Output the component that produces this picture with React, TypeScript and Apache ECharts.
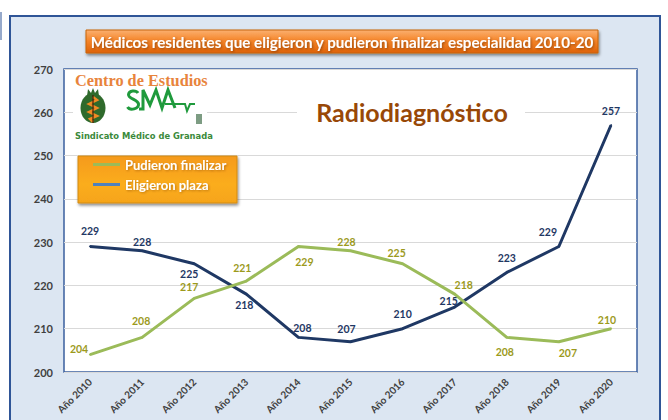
import React, { useEffect, useRef } from "react";
import * as echarts from "echarts";

const years = ["Año 2010", "Año 2011", "Año 2012", "Año 2013", "Año 2014", "Año 2015", "Año 2016", "Año 2017", "Año 2018", "Año 2019", "Año 2020"];
const eligieron = [229, 228, 225, 218, 208, 207, 210, 215, 223, 229, 257];
const pudieron = [204, 208, 217, 221, 229, 228, 225, 218, 208, 207, 210];
const yMin = 200;
const yMax = 270;
const yStep = 10;

const titleText = "Médicos residentes que eligieron y pudieron finalizar especialidad 2010-20";
const subtitleText = "Radiodiagnóstico";
const nameElig = "Eligieron plaza";
const namePud = "Pudieron finalizar";

// label placement offsets (dx, dy) relative to each point
const eligOffsets = [[0, -15], [0, -9], [-5, 10], [-2, 11], [4, -9], [-4, -13], [0, -15], [-6, -6], [0, -14], [-11, -14], [0, -14]];
const pudOffsets = [[-11, -6], [-1, -16], [-5, -11], [-4, -13], [6, 16], [-4, -9], [-6, -11], [9, -9], [-2, 15], [9, 11], [-4, -9]];

const NAVY = "#1f3864";
const GREEN = "#9bbb59";
const LOGO_GREEN = "#1f9a3c";
const FONT = "Lato, 'Open Sans', sans-serif";

echarts.graphic.registerShape(
  "sLetter",
  echarts.graphic.extendPath("M11 3 C9 0 2 0 1.5 4.5 C1 9 11 9 11.5 14 C12 19 3 21 0.5 17", {})
);

export default function App() {
  const ref = useRef<HTMLDivElement>(null);
  useEffect(() => {
    if (!ref.current) return;
    const chart = echarts.init(ref.current, null, { renderer: "svg" });
    const LG = echarts.graphic.LinearGradient;
    const option: any = {
      animation: false,
      textStyle: { fontFamily: FONT },
      grid: {
        left: 64, right: 31, top: 69, bottom: 48,
        show: true, backgroundColor: "#ffffff", borderColor: "#3a5f9e", borderWidth: 1.5, z: 0,
      },
      legend: {
        orient: "vertical", left: 93, top: 158, padding: 0, itemGap: 7,
        icon: "rect", itemWidth: 27, itemHeight: 3, z: 6,
        textStyle: {
          color: "#ffffff", fontWeight: "bold", fontSize: 13, fontFamily: FONT,
          textShadowColor: "rgba(120,60,0,0.45)", textShadowBlur: 2, textShadowOffsetX: 1, textShadowOffsetY: 1,
        },
        data: [
          { name: namePud, itemStyle: { color: GREEN } },
          { name: nameElig, itemStyle: { color: "#4f81bd" } },
        ],
      },
      xAxis: {
        type: "category", data: years, boundaryGap: true,
        axisLine: { show: false }, axisTick: { show: false },
        axisLabel: { rotate: 45, fontSize: 10, fontWeight: "bold", color: "#404040", margin: 8, fontFamily: FONT },
        splitLine: { show: false },
      },
      yAxis: {
        type: "value", min: yMin, max: yMax, interval: yStep,
        axisLine: { show: false }, axisTick: { show: false },
        axisLabel: { fontSize: 11, fontWeight: "bold", color: "#404040", margin: 11, fontFamily: FONT },
        splitLine: { lineStyle: { color: "#d9d9d9", width: 1 } },
      },
      series: [
        {
          name: nameElig, type: "line", symbol: "circle", symbolSize: 2, z: 3,
          lineStyle: { color: NAVY, width: 3 }, itemStyle: { color: NAVY },
          label: { show: true, position: "inside", color: NAVY, fontWeight: "bold", fontSize: 10.5, fontFamily: FONT },
          data: eligieron.map((v, i) => ({ value: v, label: { offset: eligOffsets[i] } })),
        },
        {
          name: namePud, type: "line", symbol: "circle", symbolSize: 2, z: 4,
          lineStyle: { color: GREEN, width: 3 }, itemStyle: { color: GREEN },
          label: { show: true, position: "inside", color: "#9c9a1c", fontWeight: "bold", fontSize: 10.5, fontFamily: FONT },
          data: pudieron.map((v, i) => ({ value: v, label: { offset: pudOffsets[i] } })),
        },
      ],
      graphic: [
        // outer frame
        { type: "rect", z: -10, shape: { x: 10, y: 16, width: 650, height: 420 },
          style: { fill: "#dce6f2", stroke: "#2f5597", lineWidth: 2 } },
        { type: "line", z: -10, shape: { x1: 1, y1: 12, x2: 1, y2: 40 }, style: { stroke: "#2f5597", lineWidth: 1 } },
        // title box
        { type: "rect", z: 5, shape: { x: 86, y: 30, width: 512, height: 23 },
          style: {
            fill: new LG(0, 0, 0, 1, [
              { offset: 0, color: "#fbb070" }, { offset: 0.45, color: "#f5862a" }, { offset: 1, color: "#de6208" },
            ]),
            stroke: "#c8640c", lineWidth: 1,
            shadowBlur: 3, shadowColor: "rgba(0,0,0,0.45)", shadowOffsetX: 1, shadowOffsetY: 2,
          } },
        { type: "text", z: 6, x: 342, y: 42,
          style: {
            text: titleText, fill: "#ffffff", font: `bold 15.2px ${FONT}`, textAlign: "center", textVerticalAlign: "middle",
            textShadowColor: "rgba(90,40,0,0.55)", textShadowBlur: 2, textShadowOffsetX: 1, textShadowOffsetY: 1,
          } },
        // legend box
        { type: "rect", z: 5, shape: { x: 78, y: 156, width: 159, height: 47 },
          style: {
            fill: new LG(0, 0, 0, 1, [
              { offset: 0, color: "#f59a1f" }, { offset: 0.6, color: "#fbad1d" }, { offset: 1, color: "#f6a419" },
            ]),
            stroke: "#d08a15", lineWidth: 1,
            shadowBlur: 3, shadowColor: "rgba(0,0,0,0.45)", shadowOffsetX: 1, shadowOffsetY: 2,
          } },
        // subtitle
        { type: "rect", z: 1, shape: { x: 297, y: 99, width: 228, height: 26 }, style: { fill: "#ffffff" } },
        { type: "text", z: 2, x: 412, y: 112,
          style: { text: subtitleText, fill: "#984807", font: `bold 25px ${FONT}`, textAlign: "center", textVerticalAlign: "middle" } },
        // logo
        { type: "rect", z: 1, shape: { x: 73, y: 70, width: 134, height: 72 }, style: { fill: "#ffffff" } },
        { type: "text", z: 2, x: 75, y: 80,
          style: { text: "Centro de Estudios", fill: "#e8843c", font: "bold 16.3px 'Liberation Serif', serif", textAlign: "left", textVerticalAlign: "middle" } },
        { type: "ellipse", z: 2, shape: { cx: 93, cy: 108, rx: 12.5, ry: 15 }, style: { fill: "#2f6a2c" } },
        { type: "polygon", z: 2, shape: { points: [[87, 96], [88, 89], [91, 93], [93, 88], [95, 93], [98, 89], [99, 96]] }, style: { fill: "#2f6a2c" } },
        { type: "polyline", z: 3, shape: { points: [[93, 97], [97, 100], [89, 104], [97, 108], [89, 112], [97, 116], [90, 119], [93, 122]] },
          style: { stroke: "#f08a24", lineWidth: 2.5, fill: null } },
        { type: "line", z: 3, shape: { x1: 93, y1: 95, x2: 93, y2: 123 }, style: { stroke: "#4a1e06", lineWidth: 1.2 } },
        { type: "sLetter", z: 2, x: 127, y: 90,
          style: { stroke: LOGO_GREEN, lineWidth: 3, fill: "none" } },
        { type: "polyline", z: 2,
          shape: { points: [[139, 109], [143, 109], [143, 90], [150, 105], [156, 90], [162, 108], [168, 90], [175, 108]] },
          style: { stroke: LOGO_GREEN, lineWidth: 3, fill: null, lineJoin: "miter" } },
        { type: "polyline", z: 2,
          shape: { points: [[165, 104], [185, 104], [187, 111], [190, 104], [195, 104]] },
          style: { stroke: LOGO_GREEN, lineWidth: 2, fill: null } },
        { type: "rect", z: 2, shape: { x: 196, y: 114, width: 6, height: 10 }, style: { fill: "#7d9c83" } },
        { type: "text", z: 2, x: 75, y: 135,
          style: { text: "Sindicato Médico de Granada", fill: "#3b8a3b", font: "bold 9.3px 'DejaVu Sans Condensed', sans-serif", textAlign: "left", textVerticalAlign: "middle" } },
      ],
    };
    chart.setOption(option);
    return () => chart.dispose();
  }, []);
  return <div ref={ref} style={{ position: "absolute", left: 0, top: 0, width: 668, height: 420 }} />;
}
